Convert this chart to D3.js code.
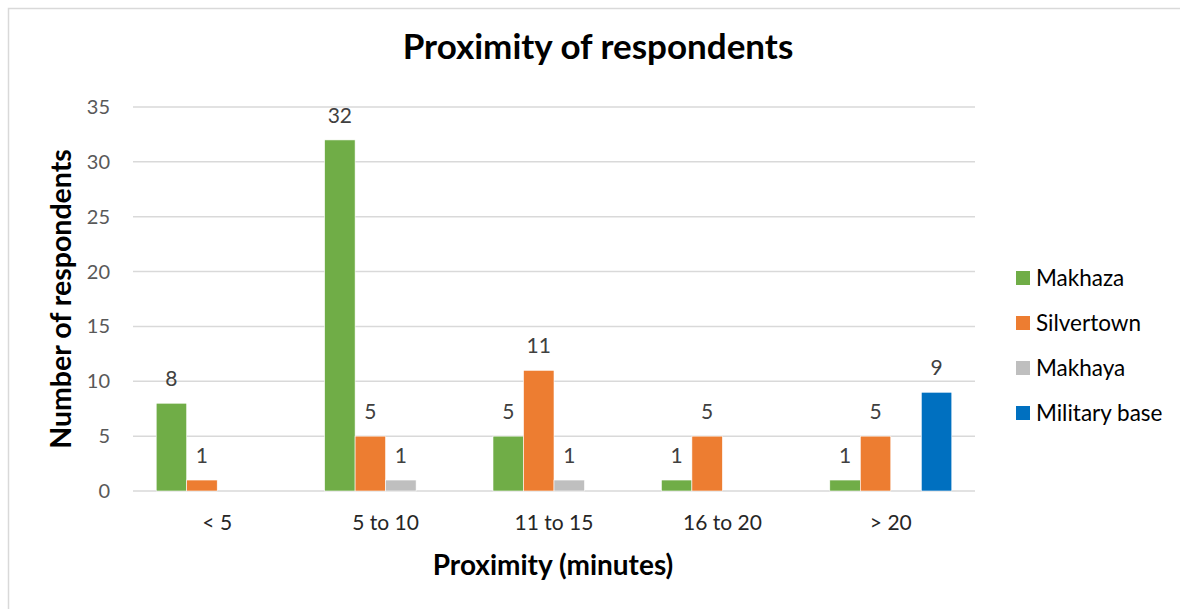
<!DOCTYPE html>
<html>
<head>
<meta charset="utf-8">
<script src="https://cdn.jsdelivr.net/npm/d3@7"></script>
<style>
  body { margin: 0; background: #fff; }
  svg { font-family: Lato, "Open Sans", sans-serif; }
</style>
</head>
<body>
<div id="chart"></div>
<script>
const categories = ['< 5', '5 to 10', '11 to 15', '16 to 20', '> 20'];
const seriesNames = ['Makhaza', 'Silvertown', 'Makhaya', 'Military base'];
const seriesColors = ['#70AD47', '#ED7D31', '#BFBFBF', '#0070C0'];
// null = no bar / no label in the original
const makhaza = [8, 32, 5, 1, 1];
const silvertown = [1, 5, 11, 5, 5];
const makhaya = [null, 1, 1, null, null];
const military = [null, null, null, null, 9];
const yTicks = [0, 5, 10, 15, 20, 25, 30, 35];

const seriesValues = [makhaza, silvertown, makhaya, military];

const W = 1180, H = 609;
const plot = { left: 133, right: 975, top: 107, bottom: 491 };

const svg = d3.select('#chart').append('svg')
  .attr('width', W)
  .attr('height', H);

// outer chart border (right and bottom edges fall outside the picture)
svg.append('rect')
  .attr('x', 8.5).attr('y', 8.5)
  .attr('width', W + 20).attr('height', H + 20)
  .attr('fill', '#fff')
  .attr('stroke', '#d9d9d9')
  .attr('stroke-width', 1.5);

const x0 = d3.scaleBand()
  .domain(categories)
  .range([plot.left, plot.right])
  .paddingInner(0.2755)
  .paddingOuter(0.1378);

const x1 = d3.scaleBand()
  .domain(seriesNames)
  .range([0, x0.bandwidth()]);

const y = d3.scaleLinear()
  .domain([0, 35])
  .range([plot.bottom, plot.top]);

// gridlines
svg.append('g')
  .selectAll('line')
  .data(yTicks)
  .join('line')
    .attr('x1', plot.left)
    .attr('x2', plot.right)
    .attr('y1', d => y(d))
    .attr('y2', d => y(d))
    .attr('stroke', '#d9d9d9')
    .attr('stroke-width', 1.5);

// y tick labels
svg.append('g')
  .selectAll('text')
  .data(yTicks)
  .join('text')
    .attr('x', 110)
    .attr('y', d => y(d))
    .attr('dy', '0.35em')
    .attr('text-anchor', 'end')
    .attr('font-size', 20)
    .attr('fill', '#595959')
    .text(d => d);

// x category labels
svg.append('g')
  .selectAll('text')
  .data(categories)
  .join('text')
    .attr('x', d => x0(d) + x0.bandwidth() / 2)
    .attr('y', 530)
    .attr('text-anchor', 'middle')
    .attr('font-size', 21)
    .attr('fill', '#262626')
    .text(d => d);

// bars
const flat = [];
seriesValues.forEach((vals, si) => {
  vals.forEach((v, ci) => {
    if (v !== null) flat.push({ series: seriesNames[si], color: seriesColors[si], cat: categories[ci], value: v });
  });
});

svg.append('g')
  .selectAll('rect')
  .data(flat)
  .join('rect')
    .attr('x', d => x0(d.cat) + x1(d.series))
    .attr('width', x1.bandwidth())
    .attr('y', d => y(d.value))
    .attr('height', d => y(0) - y(d.value))
    .attr('fill', d => d.color)
    .attr('stroke', '#fff')
    .attr('stroke-width', 0.6);

// data labels
svg.append('g')
  .selectAll('text')
  .data(flat)
  .join('text')
    .attr('x', d => x0(d.cat) + x1(d.series) + x1.bandwidth() / 2)
    .attr('y', d => y(d.value) - 17)
    .attr('text-anchor', 'middle')
    .attr('font-size', 21)
    .attr('fill', '#404040')
    .text(d => d.value);

// titles
svg.append('text')
  .attr('x', 598)
  .attr('y', 59)
  .attr('text-anchor', 'middle')
  .attr('font-size', 35)
  .attr('font-weight', 'bold')
  .attr('fill', '#000')
  .text('Proximity of respondents');

svg.append('text')
  .attr('x', 553)
  .attr('y', 575)
  .attr('text-anchor', 'middle')
  .attr('font-size', 28)
  .attr('font-weight', 'bold')
  .attr('fill', '#000')
  .text('Proximity (minutes)');

svg.append('text')
  .attr('transform', 'translate(71, 299) rotate(-90)')
  .attr('text-anchor', 'middle')
  .attr('font-size', 28.5)
  .attr('font-weight', 'bold')
  .attr('fill', '#000')
  .text('Number of respondents');

// legend
const legend = svg.append('g')
  .selectAll('g')
  .data(seriesNames)
  .join('g')
    .attr('transform', (d, i) => `translate(1016, ${278 + i * 45})`);

legend.append('rect')
  .attr('x', 0)
  .attr('y', -7)
  .attr('width', 14)
  .attr('height', 14)
  .attr('fill', (d, i) => seriesColors[i]);

legend.append('text')
  .attr('x', 20)
  .attr('y', 0)
  .attr('dy', '0.35em')
  .attr('font-size', 22.5)
  .attr('fill', '#000')
  .text(d => d);
</script>
</body>
</html>
